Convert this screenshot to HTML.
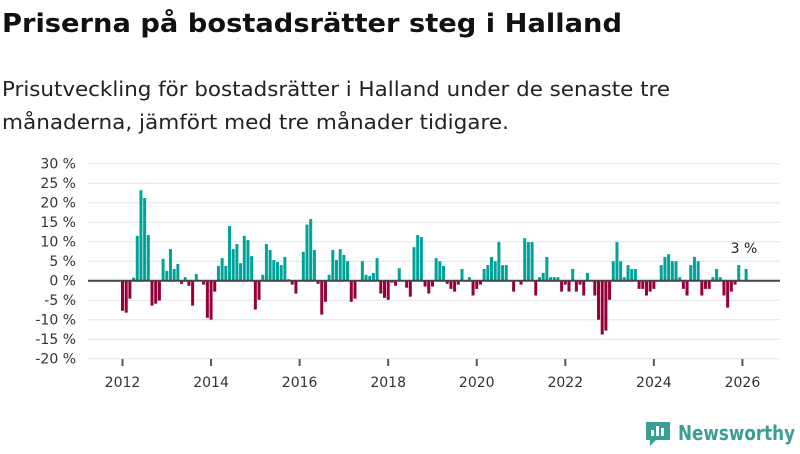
<!DOCTYPE html>
<html><head><meta charset="utf-8"><style>
body{margin:0;background:#fff;width:800px;height:450px;overflow:hidden;font-family:"DejaVu Sans",sans-serif}
svg text{font-family:"DejaVu Sans","Liberation Sans",sans-serif}
</style></head><body>
<svg width="800" height="450">
<text x="2" y="32" font-size="26" font-weight="bold" fill="#111" textLength="620" lengthAdjust="spacingAndGlyphs">Priserna på bostadsrätter steg i Halland</text>
<text x="2" y="96" font-size="20" fill="#222" textLength="668" lengthAdjust="spacingAndGlyphs">Prisutveckling för bostadsrätter i Halland under de senaste tre</text>
<text x="2" y="129" font-size="20" fill="#222" textLength="507" lengthAdjust="spacingAndGlyphs">månaderna, jämfört med tre månader tidigare.</text>
<g id="grid"></g><g id="bars"></g><g id="xaxis"></g>
<text x="744" y="253" font-size="14" fill="#222" text-anchor="middle">3 %</text>
<g>
<path d="M646 422 h24 v18 h-14 l-6 6 v-6 h-4 z" fill="#3a9e96"/>
<rect x="651" y="430" width="3" height="6" fill="#fff"/><rect x="656" y="426" width="3" height="10" fill="#fff"/><rect x="661" y="428" width="3" height="8" fill="#fff"/>
<text x="678" y="440" font-size="20" font-weight="bold" fill="#3a9e96" textLength="117" lengthAdjust="spacingAndGlyphs">Newsworthy</text>
</g>
</svg>
<script>
const yTicks=[30,25,20,15,10,5,0,-5,-10,-15,-20];
const xYears=[2012,2014,2016,2018,2020,2022,2024,2026];
const startYear=2012;
const values=[-7.7,-8.2,-4.6,0.8,11.5,23.2,21.2,11.7,-6.4,-5.9,-5.1,5.6,
2.5,8.1,3.0,4.3,-0.8,0.9,-1.3,-6.4,1.7,0,-1.0,-9.5,
-10,-2.8,3.8,5.8,3.8,14.0,8.1,9.4,4.5,11.5,10.4,6.3,
-7.4,-4.9,1.5,9.4,7.9,5.3,4.8,4.0,6.1,0.4,-1.0,-3.3,
0,7.4,14.4,15.8,7.9,-0.8,-8.7,-5.4,1.5,7.9,5.3,8.1,
6.6,5.0,-5.4,-4.6,0,5.0,1.5,1.2,2.0,5.8,-3.3,-4.4,
-4.9,-0.5,-1.3,3.2,0,-1.8,-4.1,8.6,11.7,11.2,-1.5,-3.3,
-1.5,5.8,5.0,3.8,-0.8,-2.1,-2.8,-1.0,3.0,0,0.9,-3.8,
-2.1,-1.0,3.0,4.0,6.1,5.0,9.9,4.0,4.0,0,-2.8,0,
-1.0,10.9,9.9,9.9,-3.8,0.9,2.0,6.1,0.9,0.9,0.9,-2.8,
-1.0,-2.8,3.0,-2.8,-1.0,-3.8,2.0,0,-3.8,-10,-13.8,-12.8,
-4.9,5.0,9.9,5.0,0.9,4.0,3.0,3.0,-2.1,-2.1,-3.8,-2.8,
-2.1,0,4.0,6.1,6.8,5.0,5.0,0.9,-2.1,-3.8,4.0,6.1,
5.0,-3.8,-2.1,-2.1,0.9,3.0,0.9,-3.8,-6.9,-2.8,-1.0,4.0,
0,3.0];
const NS="http://www.w3.org/2000/svg";
const y=v=>280.7-v*3.9;
const xm=m=>121+m*3.69;
const g=document.getElementById('grid');
yTicks.forEach(t=>{
 const l=document.createElementNS(NS,'line');
 l.setAttribute('x1',88);l.setAttribute('x2',780);l.setAttribute('y1',y(t));l.setAttribute('y2',y(t));
 l.setAttribute('stroke','#e3e3e3');l.setAttribute('stroke-width',1);
 
 
 g.appendChild(l);
 const tx=document.createElementNS(NS,'text');
 tx.setAttribute('x',76);tx.setAttribute('y',y(t)+5);tx.setAttribute('text-anchor','end');
 tx.setAttribute('font-size',14);tx.setAttribute('fill','#333');
 tx.textContent=t+' %';
 
 
 g.appendChild(tx);
});
const b=document.getElementById('bars');
values.forEach((v,i)=>{
 if(v===0)return;
 const r=document.createElementNS(NS,'rect');
 r.setAttribute('x',xm(i));r.setAttribute('width',3);
 r.setAttribute('y',Math.min(y(v),y(0)));r.setAttribute('height',Math.abs(y(v)-y(0)));
 r.setAttribute('fill',v>0?'#00a39a':'#96003a');
 
 
 b.appendChild(r);
});
const zl=document.createElementNS(NS,'line');
zl.setAttribute('x1',88);zl.setAttribute('x2',780);zl.setAttribute('y1',y(0));zl.setAttribute('y2',y(0));
zl.setAttribute('stroke','#444');zl.setAttribute('stroke-width',2);


b.appendChild(zl);
const xa=document.getElementById('xaxis');
xYears.forEach(yr=>{
 const x=xm((yr-startYear)*12)+1.5;
 const t=document.createElementNS(NS,'line');
 t.setAttribute('x1',x);t.setAttribute('x2',x);t.setAttribute('y1',359);t.setAttribute('y2',366);
 t.setAttribute('stroke','#555');t.setAttribute('stroke-width',2);
 
 
 xa.appendChild(t);
 const tx=document.createElementNS(NS,'text');
 tx.setAttribute('x',x);tx.setAttribute('y',387);tx.setAttribute('text-anchor','middle');
 tx.setAttribute('font-size',14);tx.setAttribute('fill','#333');
 tx.textContent=yr;
 
 
 xa.appendChild(tx);
});
</script>
</body></html>
